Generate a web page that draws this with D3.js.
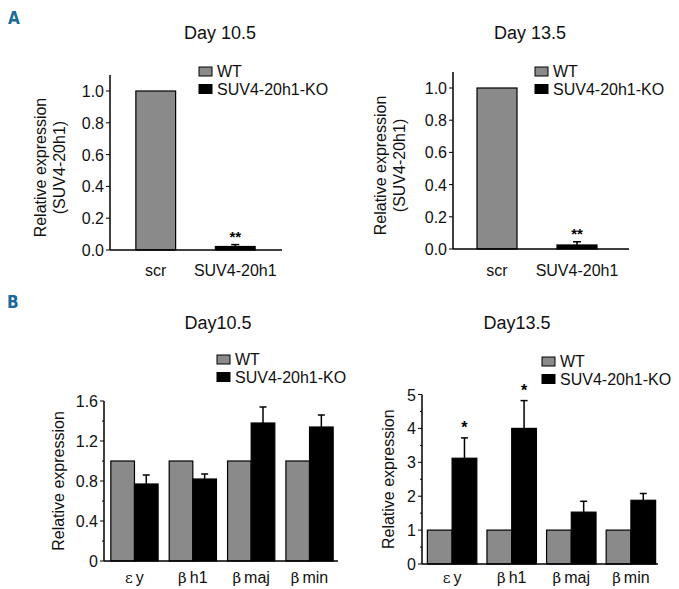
<!DOCTYPE html>
<html><head><meta charset="utf-8">
<script src="https://cdn.jsdelivr.net/npm/d3@7"></script>
<style>body{margin:0;background:#fff}svg{display:block;font-family:"Liberation Sans",Arial,sans-serif}</style>
</head><body>
<svg id="c" width="679" height="589"></svg>
<script>
// ---- data ----
const seriesNames = ["WT", "SUV4-20h1-KO"];
const aCategories = ["scr", "SUV4-20h1"];
const aSeries = ["WT", "SUV4-20h1-KO"];          // series of each bar in panel A
const aDay105 = [1.0, 0.022];
const aDay105Err = [0, 0.012];
const aDay135 = [1.0, 0.025];
const aDay135Err = [0, 0.02];
const aStars = ["", "**"];
const aTicks = [0, 0.2, 0.4, 0.6, 0.8, 1.0];

const bCategories = ["εy", "βh1", "βmaj", "βmin"];
const bWT105 = [1.0, 1.0, 1.0, 1.0];
const bKO105 = [0.77, 0.82, 1.38, 1.34];
const bKO105Err = [0.09, 0.05, 0.16, 0.12];
const bTicks105 = [0, 0.4, 0.8, 1.2, 1.6];
const bWT135 = [1.0, 1.0, 1.0, 1.0];
const bKO135 = [3.12, 4.0, 1.53, 1.88];
const bKO135Err = [0.6, 0.82, 0.32, 0.2];
const bStars135 = ["*", "*", "", ""];
const bTicks135 = [0, 1, 2, 3, 4, 5];

const colors = {"WT": "#8a8a8a", "SUV4-20h1-KO": "#000"};
const svg = d3.select("#c");

// panel letters
svg.append("text").attr("x", 8).attr("y", 24).text("A")
  .attr("fill", "#1d6a9a").attr("font-weight", "bold").attr("font-size", 17)
  .attr("font-family", "'Liberation Sans Narrow','DejaVu Sans Condensed',sans-serif");
svg.append("text").attr("x", 7).attr("y", 308).text("B")
  .attr("fill", "#1d6a9a").attr("font-weight", "bold").attr("font-size", 17)
  .attr("font-family", "'Liberation Sans Narrow','DejaVu Sans Condensed',sans-serif");

function legend(g, x, y) {
  seriesNames.forEach((s, i) => {
    g.append("rect").attr("x", x).attr("y", y + i * 17.5).attr("width", 13).attr("height", 9)
      .attr("fill", colors[s]).attr("stroke", "#000").attr("stroke-width", 1);
    g.append("text").attr("x", x + 18).attr("y", y + i * 17.5 + 10).text(s)
      .attr("font-size", 16).attr("fill", "#111");
  });
}

function yAxis(g, y, x0, ticks, fmt, minor, top) {
  g.append("line").attr("x1", x0).attr("x2", x0).attr("y1", y(0)).attr("y2", top)
    .attr("stroke", "#000").attr("stroke-width", 1.5);
  ticks.forEach(t => {
    g.append("line").attr("x1", x0 - 4).attr("x2", x0).attr("y1", y(t)).attr("y2", y(t))
      .attr("stroke", "#000").attr("stroke-width", 1);
    g.append("text").attr("x", x0 - 6).attr("y", y(t) + 6).attr("text-anchor", "end")
      .attr("font-size", 16).attr("fill", "#111").text(fmt(t));
  });
  minor.forEach(t => {
    g.append("line").attr("x1", x0 - 2).attr("x2", x0).attr("y1", y(t)).attr("y2", y(t))
      .attr("stroke", "#000").attr("stroke-width", 1);
  });
}

function errBar(g, cx, y0, y1, cap) {
  g.append("line").attr("x1", cx).attr("x2", cx).attr("y1", y0).attr("y2", y1)
    .attr("stroke", "#000").attr("stroke-width", 1.5);
  g.append("line").attr("x1", cx - cap / 2).attr("x2", cx + cap / 2).attr("y1", y1).attr("y2", y1)
    .attr("stroke", "#000").attr("stroke-width", 1.5);
}

// ---- Panel A ----
function panelA(cfg) {
  const g = svg.append("g");
  const y = d3.scaleLinear().domain([0, 1.1]).range([cfg.y0, cfg.y0 - (cfg.y0 - cfg.y1) * 1.1]);
  const x = d3.scaleBand().domain(aCategories).range(cfg.xr).paddingInner(0.5).paddingOuter(0.25);
  g.append("text").attr("x", cfg.titleX).attr("y", 39).attr("text-anchor", "middle")
    .attr("font-size", 18).attr("fill", "#111").text(cfg.title);
  legend(g, cfg.legX, 67);
  yAxis(g, y, cfg.ax, aTicks, d3.format(".1f"), [], y(1.1));
  aCategories.forEach((c, i) => {
    const v = cfg.vals[i];
    g.append("rect").attr("x", x(c)).attr("y", y(v)).attr("width", x.bandwidth())
      .attr("height", y(0) - y(v)).attr("fill", colors[aSeries[i]]).attr("stroke", "#000").attr("stroke-width", 1.2);
    if (cfg.err[i] > 0) errBar(g, x(c) + x.bandwidth() / 2, y(v), y(v + cfg.err[i]), 8);
    if (aStars[i]) g.append("text").attr("x", x(c) + x.bandwidth() / 2).attr("y", y(v + cfg.err[i]) - 3)
      .attr("text-anchor", "middle").attr("font-size", 15).attr("font-weight", "bold").text(aStars[i]);
    g.append("text").attr("x", x(c) + x.bandwidth() / 2).attr("y", 276).attr("text-anchor", "middle")
      .attr("font-size", 16).attr("fill", "#111").text(c);
  });
  g.append("line").attr("x1", cfg.ax).attr("x2", cfg.baseEnd).attr("y1", y(0)).attr("y2", y(0))
    .attr("stroke", "#000").attr("stroke-width", 1.5);
  const lab = g.append("text").attr("transform", `translate(${cfg.labX},${(y(0) + y(1.1)) / 2 + 5}) rotate(-90)`)
    .attr("text-anchor", "middle").attr("font-size", 16).attr("fill", "#111");
  lab.append("tspan").attr("x", 0).attr("dy", 0).text("Relative expression");
  lab.append("tspan").attr("x", 0).attr("dy", 19).text("(SUV4-20h1)");
}
panelA({title: "Day 10.5", titleX: 220, legX: 199, ax: 110, y0: 250, y1: 91, xr: [116, 275],
  baseEnd: 282, vals: aDay105, err: aDay105Err, labX: 46});
panelA({title: "Day 13.5", titleX: 530, legX: 535, ax: 453, y0: 249, y1: 88, xr: [457, 617],
  baseEnd: 629, vals: aDay135, err: aDay135Err, labX: 386});

// ---- Panel B ----
function panelB(cfg) {
  const g = svg.append("g");
  const y = d3.scaleLinear().domain([0, cfg.max]).range([cfg.y0, cfg.y1]);
  const x = d3.scaleBand().domain(bCategories).range(cfg.xr).paddingInner(cfg.pi).paddingOuter(cfg.po);
  const xs = d3.scaleBand().domain(seriesNames).range([0, x.bandwidth()]);
  g.append("text").attr("x", cfg.titleX).attr("y", 329).attr("text-anchor", "middle")
    .attr("font-size", 18).attr("fill", "#111").text(cfg.title);
  legend(g, cfg.legX, cfg.legY);
  yAxis(g, y, cfg.ax, cfg.ticks, d3.format(""), cfg.minor, y(cfg.max));
  bCategories.forEach((c, i) => {
    const vals = [cfg.wt[i], cfg.ko[i]];
    seriesNames.forEach((s, j) => {
      g.append("rect").attr("x", x(c) + xs(s)).attr("y", y(vals[j])).attr("width", xs.bandwidth())
        .attr("height", y(0) - y(vals[j])).attr("fill", colors[s]).attr("stroke", "#000").attr("stroke-width", 1.2);
    });
    const cx = x(c) + xs("SUV4-20h1-KO") + xs.bandwidth() / 2;
    const top = cfg.ko[i] + cfg.err[i];
    errBar(g, cx, y(cfg.ko[i]), y(top), 7);
    if (cfg.stars && cfg.stars[i]) g.append("text").attr("x", cx).attr("y", y(top) - 5)
      .attr("text-anchor", "middle").attr("font-size", 16).attr("font-weight", "bold").text(cfg.stars[i]);
    const t = g.append("text").attr("x", x(c) + x.bandwidth() / 2).attr("y", 583).attr("text-anchor", "middle")
      .attr("font-size", 16).attr("fill", "#111");
    t.append("tspan").attr("font-size", 15).attr("font-family", "'DejaVu Serif',serif").attr("font-weight", "200").text(c[0]);
    t.append("tspan").attr("dx", 3).text(c.slice(1));
  });
  g.append("line").attr("x1", cfg.ax).attr("x2", cfg.baseEnd).attr("y1", y(0)).attr("y2", y(0))
    .attr("stroke", "#000").attr("stroke-width", 1.5);
  g.append("text").attr("transform", `translate(${cfg.labX},${(y(0) + y(cfg.max)) / 2}) rotate(-90)`)
    .attr("text-anchor", "middle").attr("font-size", 16).attr("fill", "#111").text("Relative expression");
}
panelB({title: "Day10.5", titleX: 218, legX: 217, legY: 355, ax: 104, y0: 561, y1: 401, max: 1.6,
  xr: [105, 339], pi: 0.19, po: 0.1, baseEnd: 338, wt: bWT105, ko: bKO105, err: bKO105Err,
  ticks: bTicks105, minor: [0.2, 0.6, 1.0, 1.4], labX: 64});
panelB({title: "Day13.5", titleX: 517, legX: 542, legY: 357, ax: 422, y0: 564, y1: 394.5, max: 5,
  xr: [422, 661], pi: 0.17, po: 0.09, baseEnd: 658, wt: bWT135, ko: bKO135, err: bKO135Err, stars: bStars135,
  ticks: bTicks135, minor: [0.5, 1.5, 2.5, 3.5, 4.5], labX: 394});
</script>
</body></html>
